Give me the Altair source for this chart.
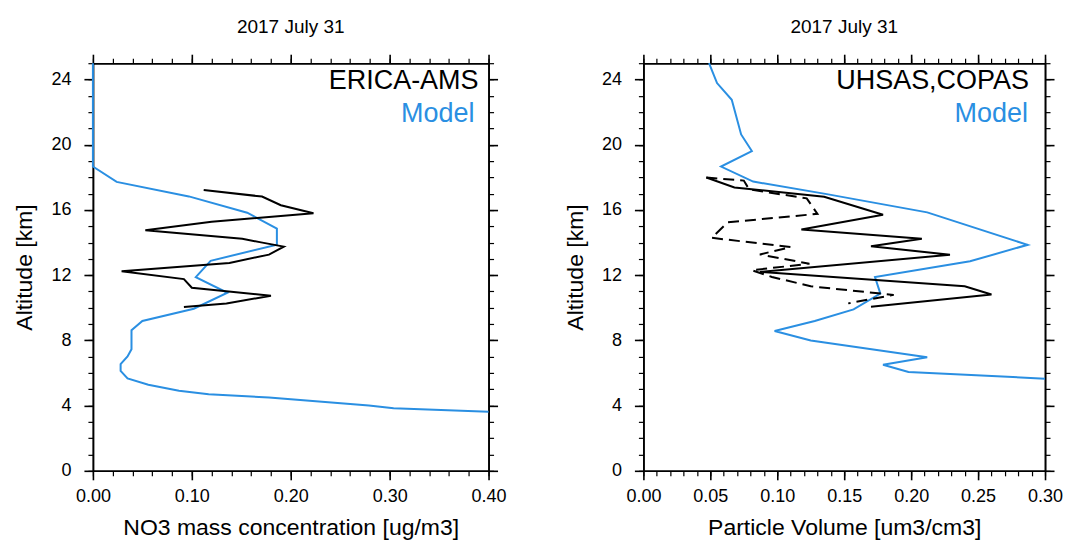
import altair as alt
import pandas as pd

FONT = "Liberation Sans"
BLUE = "#2a8fe2"

# ---------------- Left panel: NO3 (ERICA-AMS vs Model) ----------------
no3_model_x = [0.0, 0.0, 0.024, 0.097, 0.156, 0.186, 0.186, 0.119, 0.104, 0.136, 0.102,
               0.050, 0.039, 0.039, 0.035, 0.028, 0.028, 0.035, 0.056, 0.087, 0.117,
               0.178, 0.279, 0.304, 0.400]
no3_model_alt = [25.0, 18.66, 17.72, 16.83, 15.83, 14.86, 13.87, 12.88, 11.88, 10.92, 9.94,
                 9.19, 8.62, 7.46, 7.01, 6.54, 6.13, 5.67, 5.28, 4.91, 4.70,
                 4.50, 4.00, 3.83, 3.62]
no3_obs_x = [0.112, 0.171, 0.190, 0.223, 0.120, 0.053, 0.151, 0.170, 0.193, 0.178,
             0.138, 0.029, 0.092, 0.100, 0.180, 0.135, 0.092]
no3_obs_alt = [17.23, 16.82, 16.29, 15.80, 15.28, 14.75, 14.23, 14.01, 13.75, 13.26,
               12.75, 12.24, 11.76, 11.23, 10.74, 10.26, 10.04]

# ---------------- Right panel: Particle volume (UHSAS, COPAS vs Model) ----------------
vol_model_x = [0.049, 0.055, 0.066, 0.073, 0.081, 0.058, 0.082, 0.137, 0.212, 0.287,
               0.244, 0.173, 0.177, 0.157, 0.128, 0.098, 0.125, 0.212, 0.179, 0.198, 0.300]
vol_model_alt = [25.0, 23.78, 22.76, 20.63, 19.61, 18.66, 17.74, 16.97, 15.85, 13.86,
                 12.85, 11.89, 10.87, 9.90, 9.19, 8.58, 7.99, 6.97, 6.50, 6.06, 5.65]
uhsas_x = [0.047, 0.068, 0.135, 0.179, 0.118, 0.208, 0.170, 0.229, 0.087, 0.240, 0.260, 0.170]
uhsas_alt = [17.99, 17.38, 16.81, 15.71, 14.80, 14.23, 13.78, 13.25, 12.20, 11.32, 10.81, 10.06]
copas_x = [0.047, 0.075, 0.079, 0.122, 0.130, 0.063, 0.051, 0.110, 0.087, 0.124, 0.081,
           0.096, 0.125, 0.148, 0.187, 0.153]
copas_alt = [17.99, 17.80, 17.26, 16.71, 15.76, 15.24, 14.29, 13.72, 13.27, 12.70, 12.30,
             11.89, 11.32, 11.12, 10.79, 10.27]

y_major = [0, 4, 8, 12, 16, 20, 24]
y_minor = list(range(0, 26))
left_x_major = [0.0, 0.1, 0.2, 0.3, 0.4]
left_x_minor = [round(i * 0.02, 2) for i in range(21)]
right_x_major = [0.0, 0.05, 0.10, 0.15, 0.20, 0.25, 0.30]
right_x_minor = [round(i * 0.01, 2) for i in range(31)]

H = 408


def frame(xs, ys):
    return pd.DataFrame({"v": xs, "alt": ys, "i": list(range(len(xs)))})


def base_axis(orient, values, size, labels):
    return dict(orient=orient, values=values, tickSize=size, labels=labels, grid=False,
                domainColor="black", tickColor="black", domainWidth=1.6,
                tickWidth=1.6 if size > 6 else 1.2)


def xaxis(orient, values, size, labels, title=None):
    kw = base_axis(orient, values, size, labels)
    if labels:
        kw.update(format=".2f", labelFontSize=18, labelFont=FONT, labelColor="black",
                  labelPadding=8, title=title, titleFontSize=23, titleFont=FONT,
                  titleFontWeight="normal", titleColor="black", titlePadding=11,
                  labelFlush=False, labelOverlap=False)
    else:
        kw.update(title=None)
    return alt.Axis(**kw)


def yaxis(orient, values, size, labels, title=None):
    kw = base_axis(orient, values, size, labels)
    if labels:
        kw.update(format="d", labelFontSize=18, labelFont=FONT, labelColor="black",
                  labelPadding=13, title=title, titleFontSize=23, titleFont=FONT,
                  titleFontWeight="normal", titleColor="black", titlePadding=14,
                  labelFlush=False, labelOverlap=False)
    else:
        kw.update(title=None)
    return alt.Axis(**kw)


def panel(model_df, obs_df, dashed_df, xdom, xmaj, xmin, xtitle, obs_label, lab_dx, W):
    xs = alt.Scale(domain=xdom, nice=False, zero=False)
    ys = alt.Scale(domain=[0, 25], nice=False, zero=False)

    def enc(ax_x, ax_y):
        return dict(
            x=alt.X("v:Q", scale=xs, axis=ax_x),
            y=alt.Y("alt:Q", scale=ys, axis=ax_y),
            order=alt.Order("i:Q"),
        )

    layers = []
    layers.append(alt.Chart(model_df).mark_line(color=BLUE, strokeWidth=2).encode(
        **enc(xaxis("bottom", xmaj, 9, True, xtitle), yaxis("left", y_major, 9, True, "Altitude [km]"))))
    layers.append(alt.Chart(obs_df).mark_line(color="black", strokeWidth=2).encode(
        **enc(xaxis("top", xmaj, 9, False), yaxis("right", y_major, 9, False))))
    layers.append(alt.Chart(model_df).mark_line(strokeOpacity=0).encode(
        **enc(xaxis("bottom", xmin, 5, False), yaxis("left", y_minor, 5, False))))
    layers.append(alt.Chart(model_df).mark_line(strokeOpacity=0).encode(
        **enc(xaxis("top", xmin, 5, False), yaxis("right", y_minor, 5, False))))
    if dashed_df is not None:
        layers.append(alt.Chart(dashed_df).mark_line(color="black", strokeWidth=2,
                                                      strokeDash=[11, 6]).encode(
            x=alt.X("v:Q", scale=xs, axis=None),
            y=alt.Y("alt:Q", scale=ys, axis=None),
            order=alt.Order("i:Q")))
    labels_df = pd.DataFrame({"t": [obs_label, "Model"], "c": ["obs", "model"]})
    layers.append(alt.Chart(labels_df).transform_filter(alt.datum.c == "obs").mark_text(
        align="right", baseline="alphabetic", fontSize=27, font=FONT,
        color="black").encode(text="t:N", x=alt.value(W - lab_dx[0]), y=alt.value(26)))
    layers.append(alt.Chart(labels_df).transform_filter(alt.datum.c == "model").mark_text(
        align="right", baseline="alphabetic", fontSize=27, font=FONT,
        color=BLUE).encode(text="t:N", x=alt.value(W - lab_dx[1]), y=alt.value(59)))

    return alt.layer(*layers).resolve_axis(x="independent", y="independent").properties(
        width=W, height=H,
        title=alt.TitleParams("2017 July 31", fontSize=19, fontWeight="normal", font=FONT,
                              color="black", offset=16))


left = panel(frame(no3_model_x, no3_model_alt), frame(no3_obs_x, no3_obs_alt), None,
             [0, 0.4], left_x_major, left_x_minor, "NO3 mass concentration [ug/m3]",
             "ERICA-AMS", (10, 14), 396)
right = panel(frame(vol_model_x, vol_model_alt), frame(uhsas_x, uhsas_alt),
              frame(copas_x, copas_alt),
              [0, 0.3], right_x_major, right_x_minor, "Particle Volume [um3/cm3]",
              "UHSAS,COPAS", (16, 17), 402)

chart = alt.hconcat(left, right, spacing=56).properties(
    padding={"left": 5, "top": 9, "right": 1, "bottom": 0}
).configure_view(stroke="black", strokeWidth=1.6).configure(background="white")

chart.save("out.html", embed_options={"renderer": "svg", "actions": False})
